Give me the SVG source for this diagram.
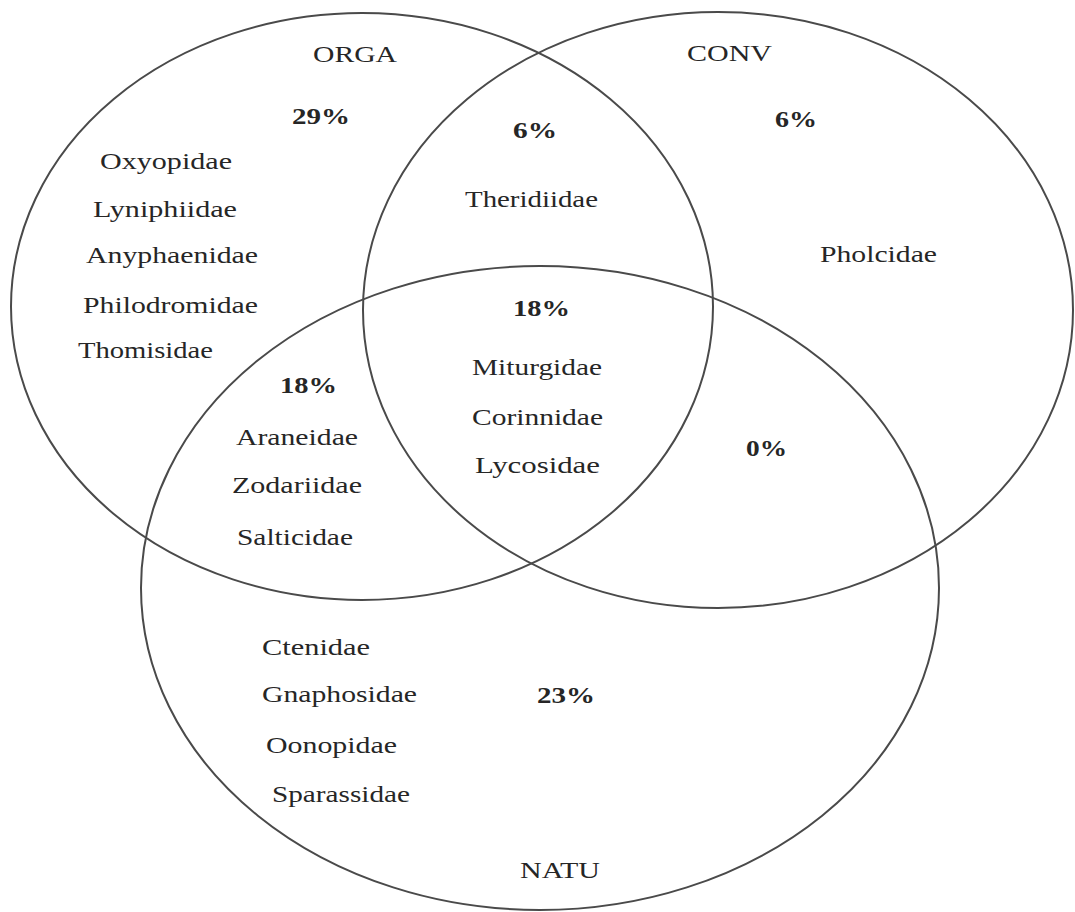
<svg xmlns="http://www.w3.org/2000/svg" width="1075" height="912" viewBox="0 0 1075 912">
<style>
.set{fill:none;stroke:#4a4a4a;stroke-width:2}
text{font-family:"Liberation Serif","Times New Roman",serif;font-size:24px;fill:#262626}
.pct{font-weight:bold}
</style>
<rect width="1075" height="912" fill="#ffffff"/>
<g id="sets">
<ellipse id="orga" class="set" cx="362" cy="306.5" rx="351" ry="293.5"/>
<ellipse id="conv" class="set" cx="718" cy="310" rx="355" ry="298"/>
<ellipse id="natu" class="set" cx="540" cy="588" rx="399" ry="322"/>
</g>
<g id="labels">
<text x="313" y="62" textLength="84" lengthAdjust="spacingAndGlyphs">ORGA</text>
<text x="687" y="61" textLength="85" lengthAdjust="spacingAndGlyphs">CONV</text>
<text x="520" y="878" textLength="80" lengthAdjust="spacingAndGlyphs">NATU</text>
</g>
<g id="orga-only">
<text class="pct" x="292" y="124" textLength="58" lengthAdjust="spacingAndGlyphs">29%</text>
<text x="100" y="169" textLength="132" lengthAdjust="spacingAndGlyphs">Oxyopidae</text>
<text x="93" y="217" textLength="144" lengthAdjust="spacingAndGlyphs">Lyniphiidae</text>
<text x="86" y="263" textLength="172" lengthAdjust="spacingAndGlyphs">Anyphaenidae</text>
<text x="83" y="313" textLength="175" lengthAdjust="spacingAndGlyphs">Philodromidae</text>
<text x="78" y="358" textLength="135" lengthAdjust="spacingAndGlyphs">Thomisidae</text>
</g>
<g id="orga-conv">
<text class="pct" x="513" y="138" textLength="44" lengthAdjust="spacingAndGlyphs">6%</text>
<text x="465" y="207" textLength="133" lengthAdjust="spacingAndGlyphs">Theridiidae</text>
</g>
<g id="conv-only">
<text class="pct" x="775" y="127" textLength="42" lengthAdjust="spacingAndGlyphs">6%</text>
<text x="820" y="262" textLength="117" lengthAdjust="spacingAndGlyphs">Pholcidae</text>
</g>
<g id="all-three">
<text class="pct" x="513" y="316" textLength="57" lengthAdjust="spacingAndGlyphs">18%</text>
<text x="472" y="375" textLength="130" lengthAdjust="spacingAndGlyphs">Miturgidae</text>
<text x="472" y="425" textLength="131" lengthAdjust="spacingAndGlyphs">Corinnidae</text>
<text x="475" y="473" textLength="125" lengthAdjust="spacingAndGlyphs">Lycosidae</text>
</g>
<g id="orga-natu">
<text class="pct" x="280" y="393" textLength="57" lengthAdjust="spacingAndGlyphs">18%</text>
<text x="236" y="445" textLength="122" lengthAdjust="spacingAndGlyphs">Araneidae</text>
<text x="232" y="493" textLength="130" lengthAdjust="spacingAndGlyphs">Zodariidae</text>
<text x="237" y="545" textLength="116" lengthAdjust="spacingAndGlyphs">Salticidae</text>
</g>
<g id="conv-natu">
<text class="pct" x="746" y="456" textLength="41" lengthAdjust="spacingAndGlyphs">0%</text>
</g>
<g id="natu-only">
<text x="262" y="655" textLength="108" lengthAdjust="spacingAndGlyphs">Ctenidae</text>
<text x="262" y="702" textLength="155" lengthAdjust="spacingAndGlyphs">Gnaphosidae</text>
<text class="pct" x="537" y="703" textLength="58" lengthAdjust="spacingAndGlyphs">23%</text>
<text x="266" y="753" textLength="131" lengthAdjust="spacingAndGlyphs">Oonopidae</text>
<text x="272" y="802" textLength="138" lengthAdjust="spacingAndGlyphs">Sparassidae</text>
</g>
<g id="connectors"></g>
</svg>
